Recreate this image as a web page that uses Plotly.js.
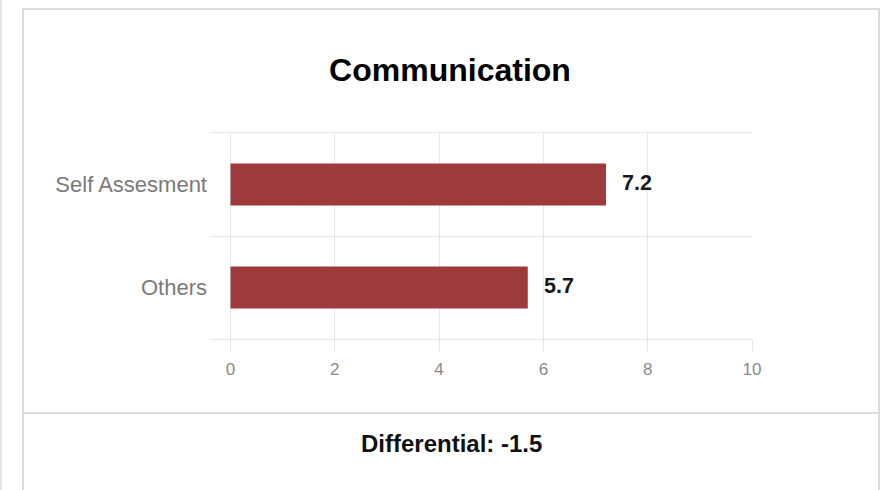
<!DOCTYPE html>
<html>
<head>
<meta charset="utf-8">
<script src="https://cdn.plot.ly/plotly-3.0.1.min.js"></script>
<style>
  html, body { margin: 0; padding: 0; background: #fff; }
  body { width: 888px; height: 490px; position: relative; overflow: hidden; font-family: Arial, "Liberation Sans", sans-serif; }
  .page-edge { position: absolute; left: 0; top: 0; width: 2px; height: 490px; background: #e4e4e4; }
  .card { position: absolute; left: 22px; top: 8px; width: 854px; height: 520px; border: 2px solid #dcdcdc; border-bottom: none; background: #fff; }
  .card-foot { position: absolute; left: 0; top: 402px; width: 854px; height: 120px; border-top: 2px solid #dcdcdc; background: #fff; }
  #chart { position: absolute; left: 0; top: 0; width: 888px; height: 490px; }
</style>
</head>
<body>
<div class="page-edge"></div>
<div class="card"><div class="card-foot"></div></div>
<div id="chart"></div>
<script>
// Scores for the Communication competency
const categories = ["Self Assesment", "Others"];
const scores = [7.2, 5.7];
const xTicks = [0, 2, 4, 6, 8, 10];
const chartTitle = "Communication";

const barColor = "#9d3b3c";
const gridColor = "#e6e6e6";
const font = "Arial, 'Liberation Sans', sans-serif";

// Gap between the others' score and the self rating
const differential = scores[1] - scores[0];

const trace = {
  type: "bar",
  orientation: "h",
  y: categories,
  x: scores,
  width: 0.41,
  marker: { color: barColor, line: { width: 0 } },
  hoverinfo: "none"
};

const valueLabels = categories.map((c, i) => ({
  x: scores[i], y: c, xref: "x", yref: "y",
  text: scores[i].toFixed(1),
  showarrow: false, xanchor: "left", yanchor: "middle", xshift: 14, yshift: 2,
  font: { family: font, size: 21.5, color: "#1a1a1a", weight: "bold" }
}));

const diffLabel = {
  xref: "paper", yref: "paper",
  x: (451 - 210) / 542, y: (339 - 443) / 206,
  text: "Differential: " + differential.toFixed(1),
  showarrow: false, xanchor: "center", yanchor: "middle",
  font: { family: font, size: 24, color: "#111", weight: "bold" }
};

const layout = {
  width: 888, height: 490,
  margin: { l: 210, r: 136, t: 133, b: 151, pad: 0 },
  paper_bgcolor: "rgba(0,0,0,0)",
  plot_bgcolor: "rgba(0,0,0,0)",
  showlegend: false,
  title: {
    text: chartTitle,
    xref: "container", yref: "container",
    x: 450 / 888, y: 1 - 70 / 490,
    xanchor: "center", yanchor: "middle",
    font: { family: font, size: 32, color: "#000", weight: "bold" }
  },
  xaxis: {
    range: [-20.5 / 52.15, 10],
    tickvals: xTicks,
    ticktext: xTicks.map(String),
    showgrid: true, gridcolor: gridColor, gridwidth: 1,
    zeroline: false,
    // top and bottom frame lines of the category bands
    showline: true, mirror: true, linecolor: gridColor, linewidth: 1,
    ticks: "outside", ticklen: 11, tickcolor: gridColor, tickwidth: 1,
    ticklabelstandoff: 4,
    tickfont: { family: font, size: 17, color: "#8a8a8a" },
    fixedrange: true
  },
  yaxis: {
    type: "category",
    autorange: "reversed",
    tickson: "boundaries",
    showgrid: true, gridcolor: gridColor, gridwidth: 1,
    zeroline: false, showline: false,
    ticks: "", ticklabelstandoff: 2,
    tickfont: { family: font, size: 22, color: "#7a7a7a" },
    fixedrange: true
  },
  annotations: valueLabels.concat([diffLabel])
};

Plotly.newPlot("chart", [trace], layout, { staticPlot: true, displayModeBar: false });
</script>
</body>
</html>
